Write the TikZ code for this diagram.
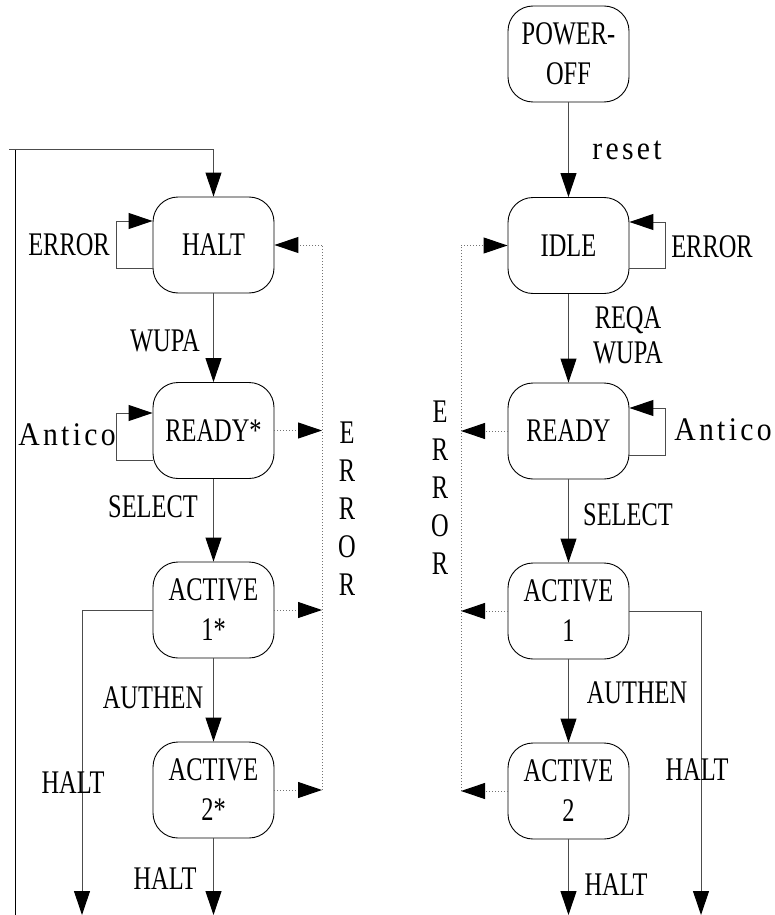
\documentclass[tikz,border=0pt]{standalone}
\usepackage{fontspec}
\setmainfont[FakeStretch=0.74]{Liberation Serif}
\newfontfamily\spaced[FakeStretch=0.9,LetterSpace=10]{Liberation Serif}
\usetikzlibrary{arrows.meta,calc}
\tikzset{
  state/.style={draw=black, line width=0.9pt, rounded corners=25pt, minimum width=121pt,
    minimum height=96pt, inner sep=0pt, align=center},
  conn/.style={line width=1pt, draw=black!70},
  arr/.style={conn, -{Triangle[length=24pt,width=16pt,color=black]}},
  err/.style={line width=1pt, draw=black!55, dotted},
  errarr/.style={err, -{Triangle[length=24pt,width=16pt,color=black]}},
  lab/.style={inner sep=0pt},
  vlab/.style={inner sep=0pt, align=center, font=\fontsize{33}{38}\selectfont}
}
\begin{document}
\begin{tikzpicture}[x=1pt,y=-1pt,font=\fontsize{33}{40}\selectfont]
\useasboundingbox (0,0) rectangle (774,915);

% ---------- left column ----------
\node[state] (halt)   at (213.5,245)   {HALT};
\node[state] (readys) at (213.5,430.5) {READY*};
\node[state] (act1s)  at (213.5,610)   {ACTIVE\\1*};
\node[state] (act2s)  at (213.5,790)   {ACTIVE\\2*};

\coordinate (lbot) at (15,915);
\coordinate (ltop) at (15,149);
\coordinate (lstart) at (9,149);
\coordinate (lcorner) at (213.5,149);
\draw[line width=1pt] (lbot) -- (ltop);
\draw[arr] (lstart) -- (lcorner) -- (halt.north);

\draw[arr] ([yshift=-23pt]halt.west) -- ++(-36,0) |- ([yshift=24pt]halt.west);
\node[lab] (lerr) at (69,245) {ERROR};

\draw[arr] (halt) -- (readys);
\node[lab] (lwupa) at (165,341) {WUPA};

\draw[arr] ([yshift=-29.5pt]readys.west) -- ++(-36,0) |- ([yshift=17.5pt]readys.west);
\node[lab] (lanti) at (67,435) {\spaced Antico};

\draw[arr] (readys) -- (act1s);
\node[lab] (lsel) at (153,507) {SELECT};

\draw[arr] (act1s) -- (act2s);
\node[lab] (laut) at (153,698) {AUTHEN};

\coordinate (b2s) at (213.5,915);
\draw[arr] (act2s) -- (b2s);
\node[lab] (lhalt2s) at (165,879) {HALT};

\coordinate (b1s) at (82,915);
\draw[arr] (act1s.west) -| (b1s);
\node[lab] (lhalt1s) at (73,783) {HALT};

\coordinate (eL1) at (322,430.5);
\coordinate (eL2) at (322,610);
\coordinate (eL3) at (322,790);
\coordinate (eLtop) at (322,245);
\draw[err] (eL3) -- (eLtop);
\draw[errarr] (eLtop) -- (halt.east);
\draw[errarr] (readys.east) -- (eL1);
\draw[errarr] (act1s.east) -- (eL2);
\draw[errarr] (act2s.east) -- (eL3);
\node[vlab] (lerrv) at (347,509) {E\\R\\R\\O\\R};

% ---------- right column ----------
\node[state] (poff)  at (568.5,54)    {POWER-\\OFF};
\node[state] (idle)  at (568.5,245.5) {IDLE};
\node[state] (ready) at (568.5,431)   {READY};
\node[state] (act1)  at (568.5,611)   {ACTIVE\\1};
\node[state] (act2)  at (568.5,791)   {ACTIVE\\2};

\draw[arr] (poff) -- (idle);
\node[lab] (lreset) at (627,150) {\spaced reset};

\draw[arr] ([yshift=-22.5pt]idle.east) -- ++(36,0) |- ([yshift=23.5pt]idle.east);
\node[lab] (rerr) at (712,247) {ERROR};

\draw[arr] (idle) -- (ready);
\node[lab] (lreqa) at (628,320) {REQA};
\node[lab] (rwupa) at (628,353) {WUPA};

\draw[arr] ([yshift=-24pt]ready.east) -- ++(36,0) |- ([yshift=23pt]ready.east);
\node[lab] (ranti) at (723,430) {\spaced Antico};

\draw[arr] (ready) -- (act1);
\node[lab] (rsel) at (628,515) {SELECT};

\draw[arr] (act1) -- (act2);
\node[lab] (raut) at (637,693) {AUTHEN};

\coordinate (b1) at (701,915);
\draw[arr] (act1.east) -| (b1);
\node[lab] (rhalt1) at (697,770) {HALT};

\coordinate (b2) at (568.5,915);
\draw[arr] (act2) -- (b2);
\node[lab] (rhalt2) at (616,885) {HALT};

\coordinate (eR1) at (461,431);
\coordinate (eR2) at (461,611);
\coordinate (eR3) at (461,791);
\coordinate (eRtop) at (461,245.5);
\draw[err] (eR3) -- (eRtop);
\draw[errarr] (eRtop) -- (idle.west);
\draw[errarr] (ready.west) -- (eR1);
\draw[errarr] (act1.west) -- (eR2);
\draw[errarr] (act2.west) -- (eR3);
\node[vlab] (rerrv) at (440,487.5) {E\\R\\R\\O\\R};
\end{tikzpicture}
\end{document}
